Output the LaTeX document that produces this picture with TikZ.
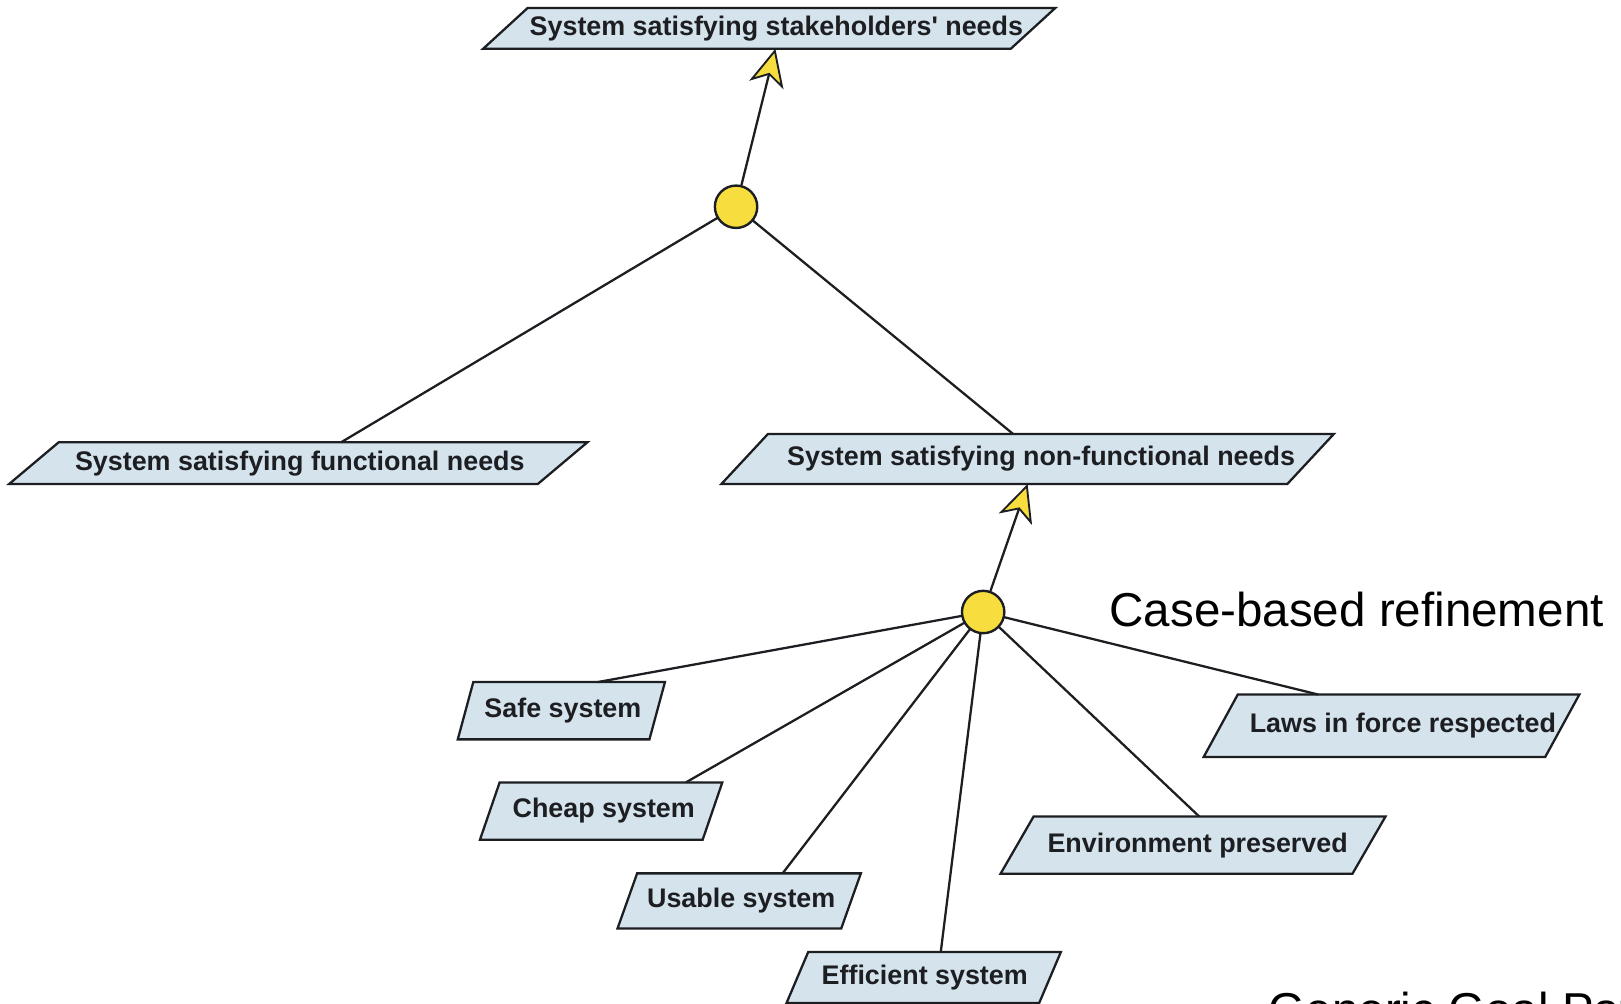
\documentclass[tikz,border=0pt]{standalone}
\usepackage{fontspec}
\setmainfont{Liberation Sans}
\usetikzlibrary{arrows.meta,calc}
\pgfdeclarelayer{paper}
\pgfdeclarelayer{bg}
\pgfsetlayers{paper,bg,main}
\definecolor{boxfill}{RGB}{213,227,236}
\definecolor{andfill}{RGB}{247,222,62}
\definecolor{ink}{RGB}{28,30,34}
\begin{document}
\begin{tikzpicture}[x=1pt,y=-1pt,
  goal/.style={font=\bfseries\fontsize{26}{30}\selectfont, text=ink, inner sep=0pt},
  goalbox/.style={draw=ink, line width=2.2pt, fill=boxfill, line join=miter},
  andnode/.style={circle, draw=ink, line width=2.3pt, fill=andfill, minimum size=41pt, inner sep=0pt},
  link/.style={draw=ink, line width=2.2pt},
  refine/.style={link, -{Stealth[length=36pt, width=34pt, inset=10pt, fill=andfill, line width=1.8pt]}},
  big/.style={font=\fontsize{46}{52}\selectfont, text=black, inner sep=0pt}
]
\clip (0,0) rectangle (1568,971);
\begin{pgfonlayer}{paper}
\fill[white] (0,0) rectangle (1568,971);
\end{pgfonlayer}

% goals
\node[goal, minimum width=510pt, minimum height=39pt] (top) at (744,27.5) {\hspace*{14pt}System satisfying stakeholders\textquotesingle{} needs};
\node[goal, minimum width=511pt, minimum height=40pt] (func) at (288.5,448) {\hspace*{3pt}System satisfying functional needs};
\node[goal, minimum width=547pt, minimum height=48pt] (nonf) at (994,444) {\hspace*{26pt}System satisfying non-functional needs};
\node[goal, minimum width=185pt, minimum height=55pt] (safe) at (543,687.5) {\hspace*{3pt}Safe system};
\node[goal, minimum width=215pt, minimum height=55pt] (cheap) at (581.5,784.5) {\hspace*{5pt}Cheap system};
\node[goal, minimum width=216pt, minimum height=53pt] (usable) at (715,871.5) {\hspace*{4pt}Usable system};
\node[goal, minimum width=244pt, minimum height=49pt] (eff) at (893.5,945.5) {\hspace*{2pt}Efficient system};
\node[goal, minimum width=340pt, minimum height=55pt] (env) at (1154,817.5) {\hspace*{9pt}Environment preserved};
\node[goal, minimum width=330pt, minimum height=60pt] (laws) at (1346,702) {\hspace*{22pt}Laws in force respected};

\begin{pgfonlayer}{bg}
\foreach \n/\d in {top/43,func/48,nonf/45,safe/15,cheap/19,usable/19,eff/21,env/32,laws/33}{
  \path[goalbox] ([xshift=-\d*0.5]\n.south west) -- ([xshift=\d*0.5]\n.north west)
    -- ([xshift=\d*0.5]\n.north east) -- ([xshift=-\d*0.5]\n.south east) -- cycle;
}
\end{pgfonlayer}

% AND refinement nodes
\node[andnode] (and1) at (712,200) {};
\node[andnode] (and2) at (951,592) {};

% connectors
\begin{pgfonlayer}{bg}
\draw[link] (and1.center) -- ([xshift=41.5pt]func.north);
\draw[link] (and1.center) -- ([xshift=-14pt]nonf.north);
\draw[link] (and2.center) -- ([xshift=35pt]safe.north);
\draw[link] (and2.center) -- ([xshift=82pt]cheap.north);
\draw[link] (and2.center) -- ([xshift=42pt]usable.north);
\draw[link] (and2.center) -- ([xshift=16.5pt]eff.north);
\draw[link] (and2.center) -- ([xshift=6pt]env.north);
\draw[link] (and2.center) -- ([xshift=-71pt]laws.north);
\end{pgfonlayer}
\draw[refine] (and1) -- ([xshift=6pt]top.south);
\draw[refine] (and2) -- ([xshift=0pt]nonf.south);

% annotations
\node[big, anchor=base west] (case) at (1073,606) {Case-based refinement};
\node[big, anchor=base west] (generic) at (1227,993) {Generic Goal Pat};
\end{tikzpicture}
\end{document}
